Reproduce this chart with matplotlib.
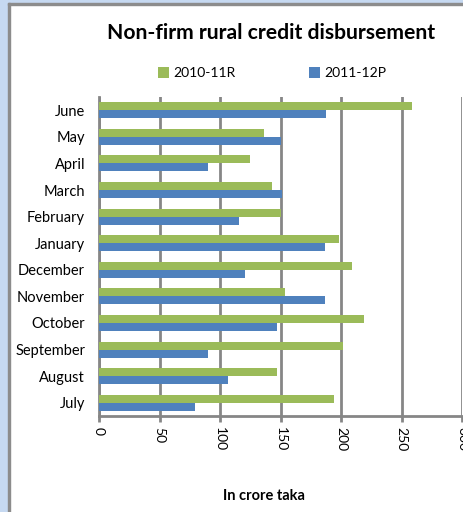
import numpy as np
import matplotlib.pyplot as plt
from matplotlib.patches import Rectangle

# categories bottom -> top, as drawn
months = ["July", "August", "September", "October", "November", "December",
          "January", "February", "March", "April", "May", "June"]
# in crore taka
fy2010_11r = [194, 147, 202, 219, 154, 209, 198, 150, 143, 125, 136, 259]
fy2011_12p = [79, 107, 90, 147, 187, 121, 187, 116, 151, 90, 150, 188]
x_ticks = [0, 50, 100, 150, 200, 250, 300]

GREEN = "#9BBB59"
BLUE = "#4F81BD"
GRID = "#868686"

plt.rcParams["font.family"] = ["Lato", "DejaVu Sans"]

W, H = 463, 512
fig = plt.figure(figsize=(W / 100, H / 100), dpi=100)

# blue window frame on left/top, grey border line
fig.patches.append(Rectangle((0, 0), 8 / W, 1, transform=fig.transFigure,
                             color="#C6D9F1", zorder=0))
fig.patches.append(Rectangle((0, 1 - 3 / H), 1, 3 / H, transform=fig.transFigure,
                             color="#C6D9F1", zorder=0))
fig.patches.append(Rectangle((8 / W, 0), 2 / W, 1 - 3 / H, transform=fig.transFigure,
                             color="#8C8C8C", zorder=1))
fig.patches.append(Rectangle((8 / W, 1 - 5 / H), 1, 2 / H, transform=fig.transFigure,
                             color="#8C8C8C", zorder=1))

ax = fig.add_axes([99 / W, 1 - 416 / H, 363 / W, 319 / H])

y = np.arange(len(months))
h = 0.3
ax.barh(y + h / 2, fy2010_11r, height=h, color=GREEN, label="2010-11R", zorder=3)
ax.barh(y - h / 2, fy2011_12p, height=h, color=BLUE, label="2011-12P", zorder=3)

ax.set_xlim(0, 300)
ax.set_ylim(-0.5, len(months) - 0.5)
ax.set_yticks(y)
ax.set_yticklabels(months, fontsize=10.5)
ax.tick_params(axis="y", length=0, pad=10)
ax.set_xticks(x_ticks)
ax.set_xticklabels([str(v) for v in x_ticks], rotation=-90, fontsize=10)
ax.tick_params(axis="x", length=4, width=2, color=GRID, pad=4)

ax.grid(True, axis="x", color=GRID, lw=2, zorder=0)
for side in ("top", "right"):
    ax.spines[side].set_visible(False)
for side in ("left", "bottom"):
    ax.spines[side].set_color(GRID)
    ax.spines[side].set_linewidth(2)

fig.text(271 / W, 1 - 33 / H, "Non-firm rural credit disbursement",
         ha="center", va="center", fontsize=15.2, fontweight="bold")
fig.text(264 / W, 1 - 496 / H, "In crore taka",
         ha="center", va="center", fontsize=10.5, fontweight="bold")

fig.legend(loc="center", bbox_to_anchor=(272 / W, 1 - 73 / H), ncol=2,
           frameon=False, fontsize=10, handlelength=0.8, handleheight=0.8,
           handletextpad=0.3, columnspacing=5.3)

fig.savefig("out.png", dpi=100)
